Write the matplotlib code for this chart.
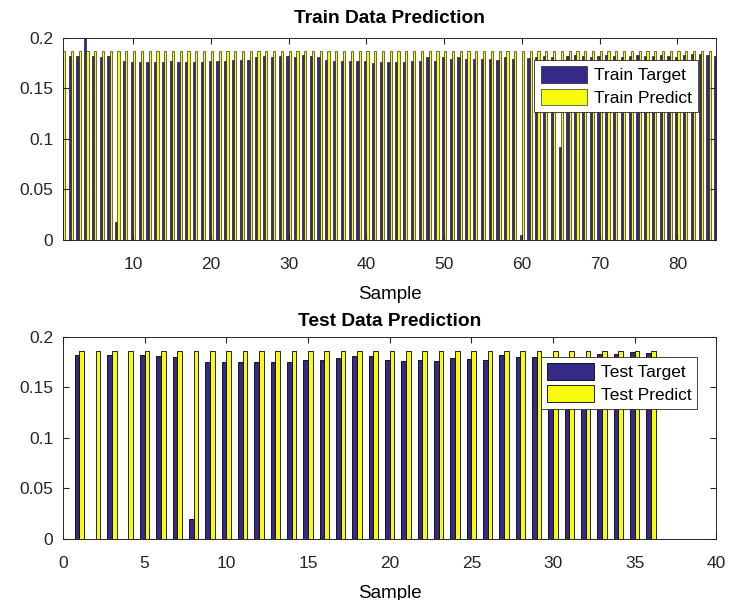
"""
Grouped bar plot of train / test target vs. predicted values.
"""

import numpy as np
import matplotlib
matplotlib.use("Agg")
import matplotlib.pyplot as plt

plt.rcParams["font.family"] = ["Liberation Sans", "DejaVu Sans"]

# train data (85 samples)
train_target = [
    0.182, 0.182, 0.182, 0.25, 0.182, 0.181, 0.182, 0.018, 0.177, 0.176,
    0.176, 0.176, 0.176, 0.176, 0.177, 0.176, 0.176, 0.176, 0.176, 0.177,
    0.1775, 0.1775, 0.178, 0.1785, 0.1785, 0.181, 0.182, 0.181, 0.182, 0.182,
    0.181, 0.183, 0.182, 0.181, 0.178, 0.1775, 0.177, 0.177, 0.177, 0.177,
    0.175, 0.176, 0.176, 0.176, 0.176, 0.177, 0.177, 0.181, 0.177, 0.181,
    0.179, 0.181, 0.179, 0.179, 0.179, 0.179, 0.178, 0.181, 0.179, 0.005,
    0.180, 0.181, 0.182, 0.181, 0.092, 0.182, 0.183, 0.182, 0.181, 0.182,
    0.183, 0.182, 0.181, 0.182, 0.183, 0.182, 0.182, 0.183, 0.182, 0.181,
    0.183, 0.184, 0.184, 0.183, 0.182,
]
train_predict = [0.187] * 85

# test data (36 samples)
test_target = [
    0.182, 0.0, 0.182, 0.0, 0.182, 0.1815, 0.1805, 0.0198, 0.1756, 0.1756,
    0.1756, 0.1756, 0.1756, 0.1756, 0.1772, 0.1772, 0.1795, 0.181, 0.181, 0.1772,
    0.1759, 0.1772, 0.1759, 0.1795, 0.1785, 0.1768, 0.1822, 0.1805, 0.1805, 0.178,
    0.177, 0.179, 0.1832, 0.1832, 0.1852, 0.1842,
]
test_predict = [0.1865] * 36

NAVY = "#352A87"
YELLOW = "#F9FB0E"


def bar_pair(ax, target, predict, labels, lw):
    x = np.arange(1, len(target) + 1)
    w = 0.286
    ax.bar(x - w / 2, target, w, color=NAVY, edgecolor="black", linewidth=lw, label=labels[0])
    ax.bar(x + w / 2, predict, w, color=YELLOW, edgecolor="black", linewidth=lw, label=labels[1])


def style_axes(ax, title, legend_anchor, title_pad):
    ax.set_ylim(0, 0.2)
    ax.set_yticks([0, 0.05, 0.1, 0.15, 0.2])
    ax.set_yticklabels(["0", "0.05", "0.1", "0.15", "0.2"])
    ax.tick_params(direction="in", top=True, right=True, length=4, labelsize=12.5, colors="#262626")
    ax.tick_params(axis="x", pad=12)
    ax.tick_params(axis="y", pad=7)
    for sp in ax.spines.values():
        sp.set_color("#262626")
        sp.set_linewidth(0.7)
    ax.set_xlabel("Sample", fontsize=13.5, labelpad=10)
    ax.set_title(title, fontsize=13.8, fontweight="bold", pad=title_pad)
    leg = ax.legend(loc="upper right", bbox_to_anchor=legend_anchor, borderaxespad=0,
                    fontsize=12.5, handlelength=2.7, handleheight=1.1, handletextpad=0.4,
                    fancybox=False, framealpha=1, edgecolor="#262626", borderpad=0.35,
                    labelspacing=0.3)
    leg.get_frame().set_linewidth(0.6)


fig = plt.figure(figsize=(7.3, 6), dpi=100)
ax1 = fig.add_axes([0.0863, 0.6, 0.895, 0.3367])
ax2 = fig.add_axes([0.0863, 0.1017, 0.895, 0.3367])

# train plot
bar_pair(ax1, train_target, train_predict, ["Train Target", "Train Predict"], 0.4)
ax1.set_xlim(1, 85)
ax1.set_xticks(range(10, 81, 10))
style_axes(ax1, "Train Data Prediction", (0.9724, 0.891), 11)

# test plot
bar_pair(ax2, test_target, test_predict, ["Test Target", "Test Predict"], 0.6)
ax2.set_xlim(0, 40)
ax2.set_xticks(range(0, 41, 5))
style_axes(ax2, "Test Data Prediction", (0.971, 0.901), 8)

fig.savefig("out.png", dpi=100)
